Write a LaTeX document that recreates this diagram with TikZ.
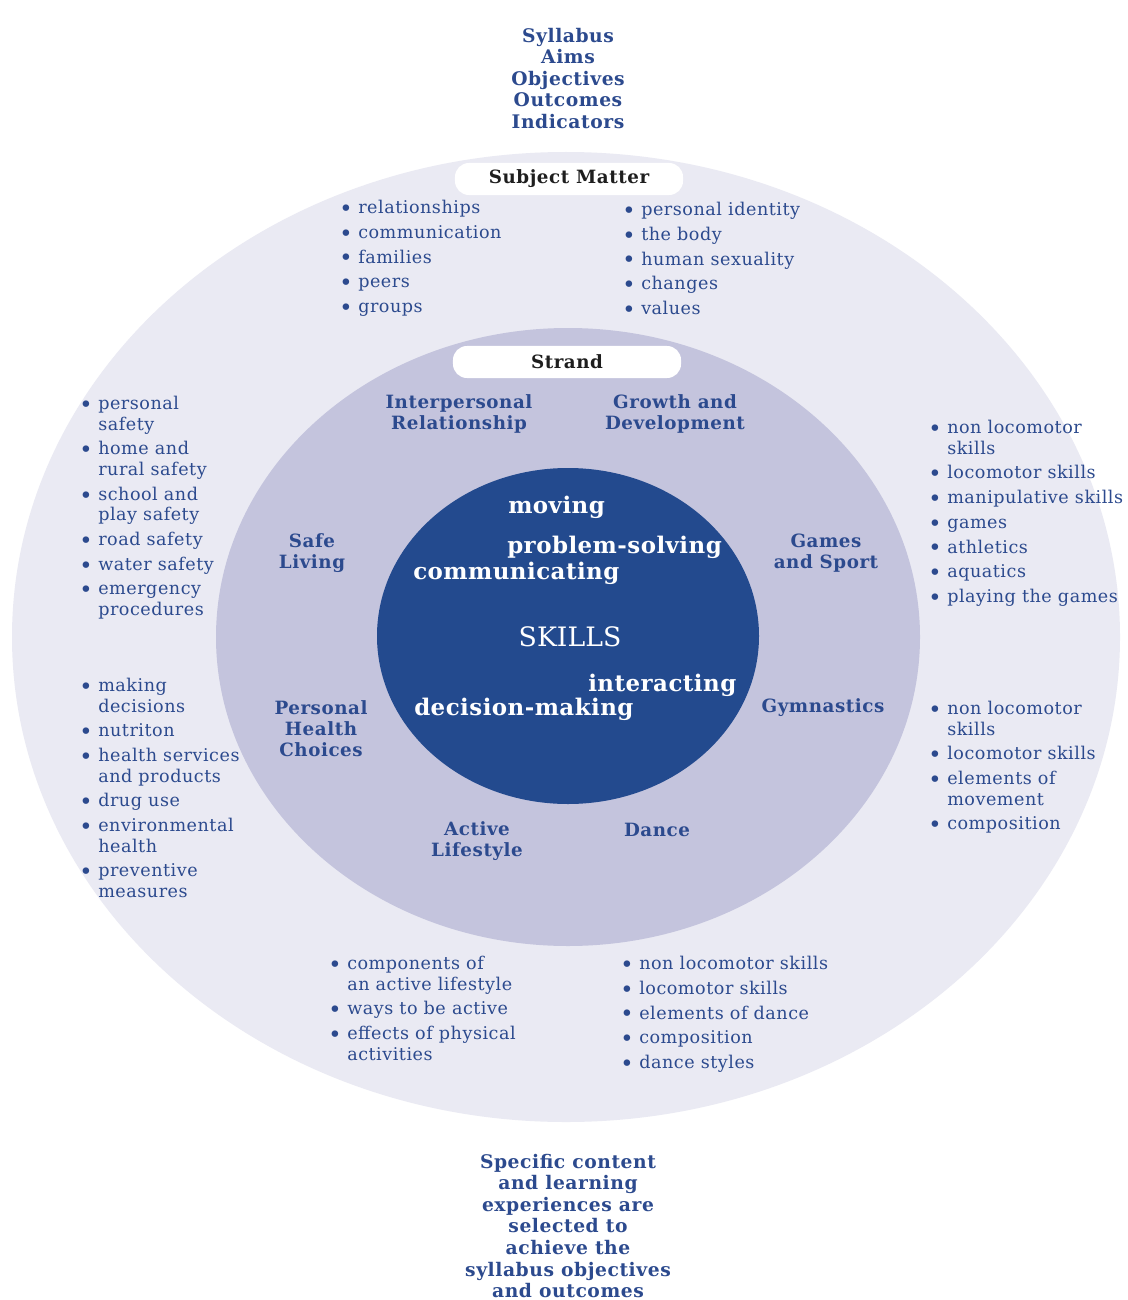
\documentclass[tikz,border=0pt]{standalone}
\usepackage{fontspec}
\setmainfont{DejaVu Serif}
\usetikzlibrary{positioning}
\definecolor{peNavy}{HTML}{2C4A8E}
\definecolor{peCore}{HTML}{234A8E}
\definecolor{peOuter}{HTML}{EAEAF3}
\definecolor{peMid}{HTML}{C4C4DD}
\definecolor{peInk}{HTML}{1E1E1E}
\newcommand{\bl}{\makebox[13.5pt][l]{\raisebox{-2pt}{\fontsize{16}{16}\selectfont\textbullet}}}
\newcommand{\cl}{\hspace*{13.5pt}}
\tikzset{
  outertext/.style={font=\bfseries\fontsize{13.3}{15.3}\selectfont\addfontfeature{LetterSpace=3},
    text=peNavy, align=center, inner sep=0pt},
  pill/.style={fill=white, rounded corners=0.35cm, minimum width=5.7cm, minimum height=0.8cm,
    font=\bfseries\fontsize{13}{15}\selectfont\addfontfeature{LetterSpace=3}, text=peInk, inner sep=0pt},
  strandname/.style={font=\bfseries\fontsize{13}{15}\selectfont\addfontfeature{LetterSpace=3},
    text=peNavy, align=center, inner sep=0pt},
  skillword/.style={font=\bfseries\fontsize{16.3}{19}\selectfont\addfontfeature{LetterSpace=2},
    text=white, inner sep=0pt, anchor=west},
  topics/.style={font=\fontsize{12.5}{14.6}\selectfont\addfontfeature{LetterSpace=3},
    text=peNavy, align=left, inner sep=0pt, anchor=north west}
}

\begin{document}
\begin{tikzpicture}[x=0.025cm, y=-0.025cm]
  \fill[white] (0,0) rectangle (1127,1300);
  \useasboundingbox (0,0) rectangle (1127,1300);
  % rings
  \fill[peOuter] (566,637) ellipse [x radius=554, y radius=485];
  \fill[peMid] (568,637) ellipse [x radius=352, y radius=309];
  \fill[peCore] (568,636) ellipse [x radius=191, y radius=168];

  \node[outertext] (aims) at (568,78.5) {Syllabus\\Aims\\Objectives\\Outcomes\\Indicators};
  \node[pill] (subject) at (569,179) {Subject Matter};
  \node[pill] (strand) at (567,362) {Strand};

  \node[topics] (subL) at (339,200) {\bl relationships\\[3pt]\bl communication\\[3pt]\bl families\\[3pt]\bl peers\\[3pt]\bl groups};
  \node[topics] (subR) at (622,202) {\bl personal identity\\[3pt]\bl the body\\[3pt]\bl human sexuality\\[3pt]\bl changes\\[3pt]\bl values};

  \node[strandname] (interp) at (459,414) {Interpersonal\\Relationship};
  \node[strandname] (growth) at (675,414) {Growth and\\Development};
  \node[strandname] (safe) at (312,553) {Safe\\Living};
  \node[strandname] (games) at (826,553) {Games\\and Sport};
  \node[strandname] (health) at (321,729) {Personal\\Health\\Choices};
  \node[strandname] (gym) at (823,708) {Gymnastics};
  \node[strandname] (active) at (477,841) {Active\\Lifestyle};
  \node[strandname] (dance) at (657,830) {Dance};

  \node[skillword] (moving) at (508,507) {moving};
  \node[skillword] (problem) at (507,547) {problem-solving};
  \node[skillword] (commun) at (413,573) {communicating};
  \node[font=\fontsize{19}{22}\selectfont, text=white, inner sep=0pt] (skills) at (570,637) {SKILLS};
  \node[skillword] (interact) at (588,685) {interacting};
  \node[skillword] (decide) at (414,709) {decision-making};

  \node[topics] (safeL) at (79,396) {\bl personal\\\cl safety\\[3pt]\bl home and\\\cl rural safety\\[3pt]\bl school and\\\cl play safety\\[3pt]\bl road safety\\[3pt]\bl water safety\\[3pt]\bl emergency\\\cl procedures};
  \node[topics] (healthL) at (79,678) {\bl making\\\cl decisions\\[3pt]\bl nutriton\\[3pt]\bl health services\\\cl and products\\[3pt]\bl drug use\\[3pt]\bl environmental\\\cl health\\[3pt]\bl preventive\\\cl measures};
  \node[topics] (gamesL) at (928,420) {\bl non locomotor\\\cl skills\\[3pt]\bl locomotor skills\\[3pt]\bl manipulative skills\\[3pt]\bl games\\[3pt]\bl athletics\\[3pt]\bl aquatics\\[3pt]\bl playing the games};
  \node[topics] (gymL) at (928,701) {\bl non locomotor\\\cl skills\\[3pt]\bl locomotor skills\\[3pt]\bl elements of\\\cl movement\\[3pt]\bl composition};
  \node[topics] (activeL) at (328,956) {\bl components of\\\cl an active lifestyle\\[3pt]\bl ways to be active\\[3pt]\bl effects of physical\\\cl activities};
  \node[topics] (danceL) at (620,956) {\bl non locomotor skills\\[3pt]\bl locomotor skills\\[3pt]\bl elements of dance\\[3pt]\bl composition\\[3pt]\bl dance styles};

  \node[outertext] (content) at (568,1226) {Specific content\\and learning\\experiences are\\selected to\\achieve the\\syllabus objectives\\and outcomes};
\end{tikzpicture}
\end{document}
